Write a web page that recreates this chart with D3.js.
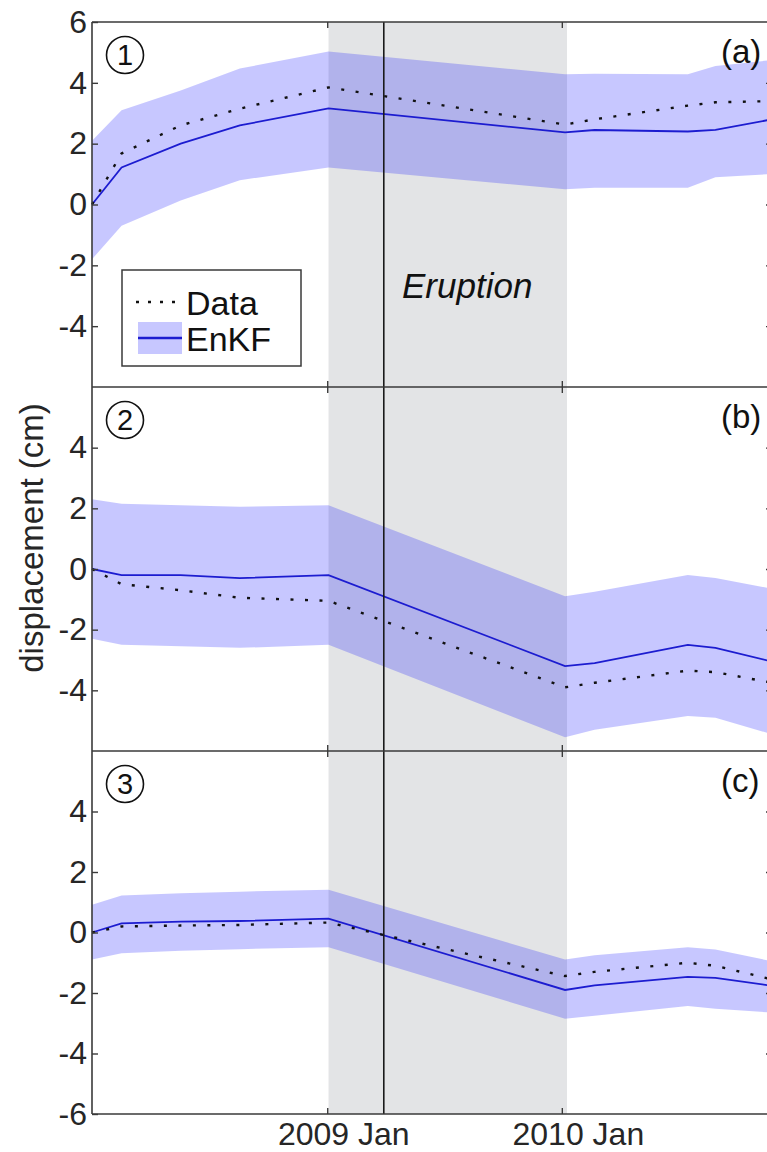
<!DOCTYPE html>
<html>
<head>
<meta charset="utf-8">
<script src="https://cdn.jsdelivr.net/npm/d3@7"></script>
<style>
  body { margin: 0; background: #fff; }
  svg { display: block; font-family: "Liberation Sans", Arial, sans-serif; }
</style>
</head>
<body>
<script>
// acquisition dates (x values shared by all panels)
const dates = ["2008-01-01", "2008-02-16", "2008-05-18", "2008-08-18", "2009-01-03",
               "2010-01-06", "2010-02-21", "2010-07-16", "2010-08-28", "2010-11-24"];

// panel (a)
const aEnkf  = [0, 1.22, 2.0, 2.6, 3.16, 2.37, 2.45, 2.4, 2.45, 2.8];
const aData  = [0, 1.68, 2.6, 3.15, 3.85, 2.63, 2.8, 3.25, 3.36, 3.4];
const aUpper = [2.1, 3.1, 3.75, 4.47, 5.03, 4.28, 4.3, 4.28, 4.55, 4.75];
const aLower = [-1.8, -0.7, 0.13, 0.8, 1.22, 0.5, 0.55, 0.55, 0.9, 1.0];

// panel (b)
const bEnkf  = [0, -0.2, -0.2, -0.3, -0.2, -3.2, -3.1, -2.5, -2.6, -3.05];
const bData  = [0, -0.5, -0.7, -0.95, -1.05, -3.9, -3.75, -3.35, -3.4, -3.75];
const bUpper = [2.3, 2.15, 2.1, 2.05, 2.1, -0.9, -0.75, -0.2, -0.3, -0.65];
const bLower = [-2.3, -2.5, -2.55, -2.6, -2.5, -5.55, -5.3, -4.85, -4.9, -5.45];

// panel (c)
const cEnkf  = [0, 0.3, 0.36, 0.38, 0.46, -1.9, -1.75, -1.47, -1.5, -1.76];
const cData  = [0, 0.2, 0.23, 0.25, 0.33, -1.44, -1.3, -1.0, -1.1, -1.55];
const cUpper = [0.92, 1.22, 1.3, 1.35, 1.41, -0.89, -0.75, -0.49, -0.56, -0.95];
const cLower = [-0.89, -0.69, -0.6, -0.55, -0.49, -2.85, -2.75, -2.43, -2.52, -2.65];

// ticks and labels
const aTicks = [6, 4, 2, 0, -2, -4];
const bTicks = [4, 2, 0, -2, -4];
const cTicks = [4, 2, 0, -2, -4, -6];
const rightTicks = [4, 2, 0, -2, -4];
const timeTicks = ["2009-01-01", "2010-01-01"];
const timeLabels = ["2009 Jan", "2010 Jan"];
const panelTags = ["(a)", "(b)", "(c)"];
const panelNums = ["1", "2", "3"];
const xDomain = ["2008-01-01", "2010-11-24"];
const eruptionDate = "2009-03-30";
const shadeDates = ["2009-01-03", "2010-01-09"];
const legendLabels = ["Data", "EnKF"];

const parse = d3.timeParse("%Y-%m-%d");
const width = 767, height = 1152;
const left = 92, right = 772;
const tops = [22, 387, 751], bottoms = [387, 751, 1114];
const axisColor = "#3a3a3a", textColor = "#262626";
const fontSize = 32;

const svg = d3.select("body").append("svg")
    .attr("width", width)
    .attr("height", height);

const x = d3.scaleTime()
    .domain(xDomain.map(parse))
    .range([left, right]);

const panels = [
  {enkf: aEnkf, data: aData, upper: aUpper, lower: aLower, ticks: aTicks},
  {enkf: bEnkf, data: bData, upper: bUpper, lower: bLower, ticks: bTicks},
  {enkf: cEnkf, data: cData, upper: cUpper, lower: cLower, ticks: cTicks}
];

// gray shaded period across all panels
svg.append("rect")
    .attr("x", x(parse(shadeDates[0])))
    .attr("y", tops[0])
    .attr("width", x(parse(shadeDates[1])) - x(parse(shadeDates[0])))
    .attr("height", bottoms[2] - tops[0])
    .attr("fill", "#e3e4e6");

panels.forEach((p, i) => {
  const y = d3.scaleLinear().domain([-6, 6]).range([bottoms[i], tops[i]]);
  const rows = dates.map((d, k) => ({
    t: parse(d), enkf: p.enkf[k], data: p.data[k], upper: p.upper[k], lower: p.lower[k]
  }));

  const g = svg.append("g").attr("class", "panel-" + i);

  // ensemble spread
  const area = d3.area()
      .x((d) => x(d.t))
      .y0((d) => y(d.lower))
      .y1((d) => y(d.upper));
  g.append("path")
      .datum(rows)
      .attr("fill", "rgb(0,0,255)")
      .attr("fill-opacity", 0.22)
      .attr("d", area);

  // EnKF mean
  g.append("path")
      .datum(rows)
      .attr("fill", "none")
      .attr("stroke", "#1c1cd0")
      .attr("stroke-width", 1.8)
      .attr("d", d3.line().x((d) => x(d.t)).y((d) => y(d.enkf)));

  // data (dotted)
  g.append("path")
      .datum(rows)
      .attr("fill", "none")
      .attr("stroke", "#111")
      .attr("stroke-width", 2.4)
      .attr("stroke-dasharray", "3,11.5")
      .attr("d", d3.line().x((d) => x(d.t)).y((d) => y(d.data)));

  // y axes (ticks pointing inward), plain hyphen for negatives
  g.append("g")
      .attr("transform", `translate(${left},0)`)
      .call(d3.axisLeft(y).tickValues(p.ticks).tickFormat((d) => String(d))
        .tickSizeInner(-6).tickSizeOuter(0).tickPadding(5))
      .call((a) => a.select(".domain").remove());
  g.append("g")
      .attr("transform", `translate(${right},0)`)
      .call(d3.axisRight(y).tickValues(rightTicks).tickFormat("").tickSizeInner(-6).tickSizeOuter(0))
      .call((a) => a.select(".domain").remove());

  // x ticks at top and bottom of each panel
  const tt = timeTicks.map(parse);
  g.append("g")
      .attr("transform", `translate(0,${tops[i]})`)
      .call(d3.axisTop(x).tickValues(tt).tickFormat("").tickSizeInner(-6).tickSizeOuter(0))
      .call((a) => a.select(".domain").remove());
  g.append("g")
      .attr("class", i === 2 ? "x-axis" : null)
      .attr("transform", `translate(0,${bottoms[i]})`)
      .call(d3.axisBottom(x).tickValues(tt)
        .tickFormat(i === 2 ? (d, k) => timeLabels[k] : "")
        .tickSizeInner(-6).tickSizeOuter(0).tickPadding(8))
      .call((a) => a.select(".domain").remove());

  // circled panel number
  g.append("circle")
      .attr("cx", 125)
      .attr("cy", tops[i] + 33)
      .attr("r", 18.5)
      .attr("fill", "none")
      .attr("stroke", "#111")
      .attr("stroke-width", 1.6);
  g.append("text")
      .attr("x", 125)
      .attr("y", tops[i] + 33)
      .attr("dy", "0.36em")
      .attr("text-anchor", "middle")
      .attr("font-size", 29)
      .attr("fill", "#111")
      .text(panelNums[i]);

  // panel tag
  g.append("text")
      .attr("x", 721)
      .attr("y", tops[i] + 41)
      .attr("font-size", 33)
      .attr("fill", "#111")
      .text(panelTags[i]);
});

// eruption line
svg.append("line")
    .attr("x1", x(parse(eruptionDate)))
    .attr("x2", x(parse(eruptionDate)))
    .attr("y1", tops[0])
    .attr("y2", bottoms[2])
    .attr("stroke", "#1a1a1a")
    .attr("stroke-width", 1.6);

// frame lines
svg.append("line")
    .attr("x1", left).attr("x2", right)
    .attr("y1", tops[0]).attr("y2", tops[0])
    .attr("stroke", axisColor).attr("stroke-width", 1.6);
bottoms.forEach((b) => {
  svg.append("line")
      .attr("x1", left).attr("x2", right)
      .attr("y1", b).attr("y2", b)
      .attr("stroke", axisColor).attr("stroke-width", 1.6);
});
svg.append("line")
    .attr("x1", left).attr("x2", left)
    .attr("y1", tops[0]).attr("y2", bottoms[2])
    .attr("stroke", axisColor).attr("stroke-width", 1.6);

// axis text styling
svg.selectAll(".tick line").attr("stroke", axisColor).attr("stroke-width", 1.4);
svg.selectAll(".tick text")
    .attr("font-size", fontSize)
    .attr("font-family", "'Liberation Sans', Arial, sans-serif")
    .attr("fill", textColor);
svg.selectAll(".x-axis .tick text").attr("font-size", 32).attr("dx", 16);

// y label
svg.append("text")
    .attr("transform", "translate(43,538) rotate(-90)")
    .attr("text-anchor", "middle")
    .attr("font-size", 33)
    .attr("fill", textColor)
    .text("displacement (cm)");

// eruption label
svg.append("text")
    .attr("x", 402)
    .attr("y", 298)
    .attr("font-size", 35)
    .attr("font-style", "italic")
    .attr("fill", "#111")
    .text("Eruption");

// legend
const legend = svg.append("g").attr("class", "legend");
legend.append("rect")
    .attr("x", 122).attr("y", 270)
    .attr("width", 179).attr("height", 96)
    .attr("fill", "#fff")
    .attr("stroke", axisColor)
    .attr("stroke-width", 1.5);
legend.append("line")
    .attr("x1", 136).attr("x2", 178)
    .attr("y1", 302).attr("y2", 302)
    .attr("stroke", "#111")
    .attr("stroke-width", 2.4)
    .attr("stroke-dasharray", "3,9");
legend.append("rect")
    .attr("x", 138).attr("y", 322)
    .attr("width", 44).attr("height", 32)
    .attr("fill", "rgb(0,0,255)")
    .attr("fill-opacity", 0.22);
legend.append("line")
    .attr("x1", 138).attr("x2", 182)
    .attr("y1", 338).attr("y2", 338)
    .attr("stroke", "#1c1cd0")
    .attr("stroke-width", 2.6);
legend.selectAll("text.lab")
    .data(legendLabels)
    .enter()
    .append("text")
    .attr("class", "lab")
    .attr("x", 186)
    .attr("y", (d, k) => 315 + k * 36)
    .attr("font-size", 34)
    .attr("fill", "#111")
    .text((d) => d);
</script>
</body>
</html>
